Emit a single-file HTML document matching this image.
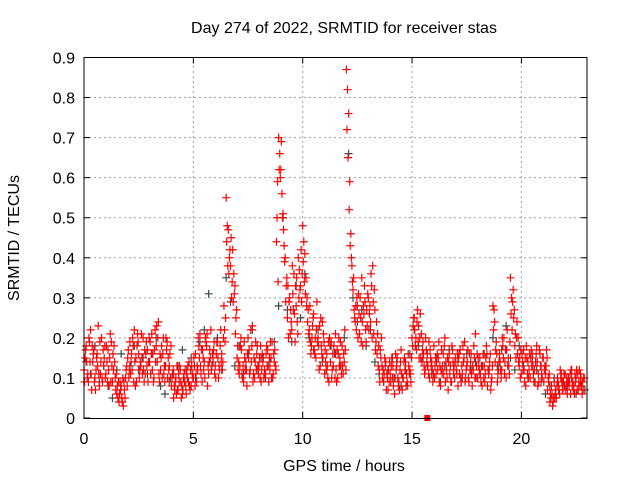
<!DOCTYPE html>
<html><head><meta charset="utf-8"><style>
body{margin:0;background:#fff;}
svg{display:block;font-family:"Liberation Sans",sans-serif;}
</style></head><body>
<svg id="chart" width="640" height="480" viewBox="0 0 640 480">
<rect x="0" y="0" width="640" height="480" fill="#fff"/>
<g id="grid"></g>
<g id="ticks"></g>
<g id="grey"></g>
<g id="red"></g>
<rect x="84" y="57.5" width="503" height="361" fill="none" stroke="#000" stroke-width="1"/>
<text x="344" y="33" font-size="16" text-anchor="middle">Day 274 of 2022, SRMTID for receiver stas</text>
<text x="344" y="471" font-size="16" text-anchor="middle">GPS time / hours</text>
<text transform="translate(19,238) rotate(-90)" font-size="16" text-anchor="middle">SRMTID / TECUs</text>
</svg>
<script>
const xTicks=[0,5,10,15,20];
const yTicks=[0,0.1,0.2,0.3,0.4,0.5,0.6,0.7,0.8,0.9];
const yTickLabels=["0","0.1","0.2","0.3","0.4","0.5","0.6","0.7","0.8","0.9"];
const redA=[.12,.18,.09,.22,.14,.10,.16,.08,.20,.13,
.11,.17,.21,.09,.14,.06,.04,.08,.03,.10,
.15,.19,.12,.22,.09,.16,.13,.20,.11,.17,
.14,.21,.10,.18,.24,.12,.16,.09,.19,.13,
.08,.05,.10,.07,.12,.06,.09,.11,.14,.08,
.10,.16,.12,.21,.09,.14,.18,.11,.22,.15,
.13,.19,.12,.16,.28,.55,.47,.38,.42,.33,
.15,.11,.17,.09,.14,.20,.12,.23,.10,.16,
.13,.09,.15,.11,.17,.12,.19,.14,.44,.70,
.62,.51,.40,.25,.30,.22,.36,.28,.40,.33,
.48,.41,.30,.22,.18,.26,.15,.20,.13,.24,
.11,.16,.09,.19,.13,.21,.10,.15,.18,.14,
.87,.76,.46,.32,.24,.28,.21,.35,.26,.19,
.30,.24,.38,.27,.16,.12,.20,.09,.14,.07,
.11,.15,.06,.13,.09,.17,.10,.14,.08,.12,
.20,.25,.17,.23,.15,.19,.12,.16,.10,.14,
.18,.11,.15,.08,.13,.20,.10,.16,.09,.12,
.14,.08,.17,.11,.19,.13,.09,.16,.12,.21,
.10,.15,.08,.13,.18,.11,.07,.28,.14,.09,
.16,.12,.20,.10,.15,.35,.29,.18,.24,.13,
.11,.17,.08,.14,.10,.16,.12,.18,.09,.13,
.15,.11,.07,.04,.06,.09,.05,.08,.10,.07,
.11,.06,.09,.12,.08,.10,.07,.11,.09];
const redB=[.15,.10,.19,.07,.17,.12,.23,.11,.09,.18,
.14,.08,.19,.12,.07,.05,.09,.04,.07,.13,
.10,.14,.18,.08,.21,.12,.15,.09,.19,.14,
.11,.16,.22,.14,.09,.18,.11,.20,.15,.10,
.11,.07,.13,.09,.05,.10,.08,.13,.07,.11,
.13,.09,.18,.11,.15,.20,.08,.17,.13,.19,
.16,.10,.22,.14,.19,.48,.40,.30,.36,.25,
.12,.18,.10,.15,.08,.17,.14,.11,.19,.13,
.10,.16,.12,.18,.09,.15,.11,.13,.59,.66,
.56,.43,.33,.20,.27,.31,.19,.24,.37,.29,
.44,.35,.27,.19,.23,.16,.29,.12,.18,.21,
.14,.10,.18,.12,.16,.09,.20,.13,.11,.17,
.82,.59,.38,.27,.22,.31,.25,.18,.29,.23,
.26,.33,.21,.19,.13,.17,.10,.15,.11,.09,
.13,.08,.16,.10,.12,.07,.15,.11,.13,.09,
.23,.18,.27,.20,.14,.13,.17,.11,.15,.09,
.13,.16,.09,.17,.11,.14,.07,.13,.17,.10,
.11,.16,.09,.14,.10,.17,.12,.08,.15,.13,
.13,.09,.16,.11,.08,.14,.10,.27,.19,.12,
.12,.18,.14,.22,.11,.30,.25,.15,.20,.10,
.14,.09,.15,.12,.17,.11,.14,.08,.16,.10,
.12,.17,.09,.05,.04,.07,.10,.06,.09,.11,
.08,.10,.06,.09,.11,.07,.12,.08,.10];
const redC=[.09,.14,.20,.11,.16,.07,.13,.19,.10,.15,
.18,.12,.09,.16,.10,.08,.06,.05,.09,.12,
.17,.11,.20,.14,.18,.10,.21,.12,.16,.09,
.19,.12,.17,.23,.11,.15,.20,.13,.10,.16,
.10,.08,.06,.11,.09,.07,.12,.10,.08,.13,
.15,.11,.20,.13,.17,.10,.21,.14,.12,.17,
.10,.15,.18,.12,.22,.44,.36,.45,.29,.21,
.18,.13,.11,.19,.12,.15,.22,.09,.14,.18,
.15,.12,.10,.16,.13,.19,.10,.17,.50,.62,
.69,.47,.29,.33,.21,.38,.26,.35,.30,.42,
.39,.31,.24,.28,.20,.17,.22,.18,.25,.15,
.17,.13,.20,.10,.18,.12,.16,.19,.13,.22,
.72,.52,.40,.35,.28,.20,.30,.24,.33,.27,
.22,.36,.29,.17,.21,.09,.13,.11,.07,.12,
.09,.13,.10,.15,.07,.11,.14,.08,.16,.11,
.18,.22,.24,.15,.21,.16,.20,.13,.17,.12,
.10,.14,.19,.12,.16,.09,.15,.11,.18,.13,
.12,.15,.10,.18,.09,.14,.16,.11,.18,.10,
.15,.11,.13,.09,.16,.12,.09,.22,.17,.11,
.14,.20,.11,.17,.13,.26,.32,.21,.16,.15,
.16,.12,.18,.10,.15,.13,.09,.14,.17,.11,
.09,.13,.10,.06,.03,.05,.08,.07,.11,.09,
.07,.09,.11,.08,.06,.12,.09,.10,.07];
const redD=[.17,.11,.14,.18,.09,.15,.11,.14,.17,.10,
.09,.15,.13,.18,.11,.09,.07,.10,.05,.08,
.12,.16,.09,.15,.19,.14,.11,.17,.13,.20,
.16,.09,.14,.20,.16,.10,.13,.17,.12,.18,
.12,.09,.07,.13,.08,.11,.06,.09,.12,.10,
.08,.13,.15,.17,.12,.19,.13,.15,.16,.11,
.19,.13,.14,.20,.25,.38,.42,.34,.31,.27,
.14,.20,.13,.12,.16,.11,.18,.15,.12,.11,
.18,.14,.11,.13,.15,.10,.16,.12,.34,.60,
.50,.39,.35,.29,.24,.27,.33,.21,.32,.36,
.34,.28,.21,.16,.25,.20,.19,.23,.16,.19,
.12,.19,.14,.16,.10,.17,.13,.11,.16,.12,
.65,.43,.34,.25,.30,.26,.19,.28,.22,.31,
.28,.20,.32,.24,.18,.15,.12,.13,.10,.14,
.15,.10,.12,.08,.14,.10,.12,.09,.11,.15,
.25,.20,.19,.26,.17,.11,.14,.19,.13,.11,
.15,.12,.13,.11,.18,.12,.14,.09,.14,.15,
.16,.11,.13,.15,.12,.10,.14,.13,.10,.16,
.12,.13,.10,.15,.12,.16,.13,.24,.16,.14,
.10,.15,.17,.13,.19,.22,.27,.20,.14,.17,
.12,.15,.11,.16,.13,.09,.16,.11,.13,.15,
.13,.15,.11,.08,.05,.06,.09,.12,.07,.08,
.10,.08,.12,.07,.09,.11,.08,.06,.10];
const greyVals=[.14,.11,.18,.09,.13,.08,.05,.12,.16,.10,
.13,.18,.12,.15,.11,.16,.20,.08,.06,.09,
.11,.13,.17,.12,.15,.10,.19,.22,.31,.14,
.20,.12,.35,.29,.13,.18,.11,.16,.22,.12,
.15,.10,.14,.19,.28,.50,.27,.19,.33,.25,
.36,.20,.17,.22,.14,.12,.18,.16,.13,.20,
.66,.30,.24,.27,.18,.22,.14,.11,.09,.12,
.10,.14,.08,.12,.16,.22,.18,.15,.13,.11,
.15,.09,.13,.17,.11,.14,.10,.16,.12,.14,
.11,.16,.12,.20,.13,.17,.23,.15,.12,.18,
.13,.10,.15,.12,.09,.06,.08,.10,.07,.09,
.08,.10,.06,.09,.07];
const redStep=0.1, greyStep=0.2;
const squareX=15.7, squareY=0;
const X0=84,X1=587,XMAX=23,Y0=418,Y1=57.5,YMAX=0.9;
const sx=v=>X0+v/XMAX*(X1-X0);
const sy=v=>Y0-v/YMAX*(Y0-Y1);
const NS="http://www.w3.org/2000/svg";
function mk(tag,parent,attrs){const e=document.createElementNS(NS,tag);for(const k in attrs)e.setAttribute(k,attrs[k]);parent.appendChild(e);return e;}
const grid=document.getElementById('grid'),ticks=document.getElementById('ticks');
xTicks.forEach(t=>{
 const x=sx(t);
 if(t>0){const l=mk('line',grid,{x1:x,x2:x,y1:Y0,y2:Y1,stroke:'#a0a0a0','stroke-dasharray':'2,3'});
 
 }
 mk('line',ticks,{x1:x,x2:x,y1:Y0,y2:Y0-6,stroke:'#000'});
 mk('line',ticks,{x1:x,x2:x,y1:Y1,y2:Y1+6,stroke:'#000'});
 const tx=mk('text',ticks,{x:x,y:444,'font-size':16,'text-anchor':'middle'});
 tx.textContent=t;
 
 
});
yTicks.forEach((t,i)=>{
 const y=sy(t);
 if(t>0&&t<YMAX){const l=mk('line',grid,{x1:X0,x2:X1,y1:y,y2:y,stroke:'#a0a0a0','stroke-dasharray':'2,3'});
 
 }
 mk('line',ticks,{x1:X0,x2:X0+6,y1:y,y2:y,stroke:'#000'});
 mk('line',ticks,{x1:X1,x2:X1-6,y1:y,y2:y,stroke:'#000'});
 const tx=mk('text',ticks,{x:75,y:y+6,'font-size':16,'text-anchor':'end'});
 tx.textContent=yTickLabels[i];
 
 
});
function plus(g,t,v,col){
 const x=sx(t),y=sy(v);
 const p=mk('path',g,{d:`M${x-4},${y}h8M${x},${y-4}v8`,stroke:col,'stroke-width':1.2,fill:'none'});
 
 
}
const gg=document.getElementById('grey'),rg=document.getElementById('red');
greyVals.forEach((v,i)=>plus(gg,0.1+i*greyStep,v,'#3a4a4a'));
redA.forEach((v,i)=>plus(rg,i*redStep,v,'#ff0000'));
redC.forEach((v,i)=>plus(rg,0.025+i*redStep,v,'#ff0000'));
redB.forEach((v,i)=>plus(rg,0.05+i*redStep,v,'#ff0000'));
redD.forEach((v,i)=>plus(rg,0.075+i*redStep,v,'#ff0000'));
const sq=mk('rect',rg,{x:sx(squareX)-3,y:sy(squareY)-3,width:6,height:6,fill:'#ff0000'});


</script>
</body></html>
